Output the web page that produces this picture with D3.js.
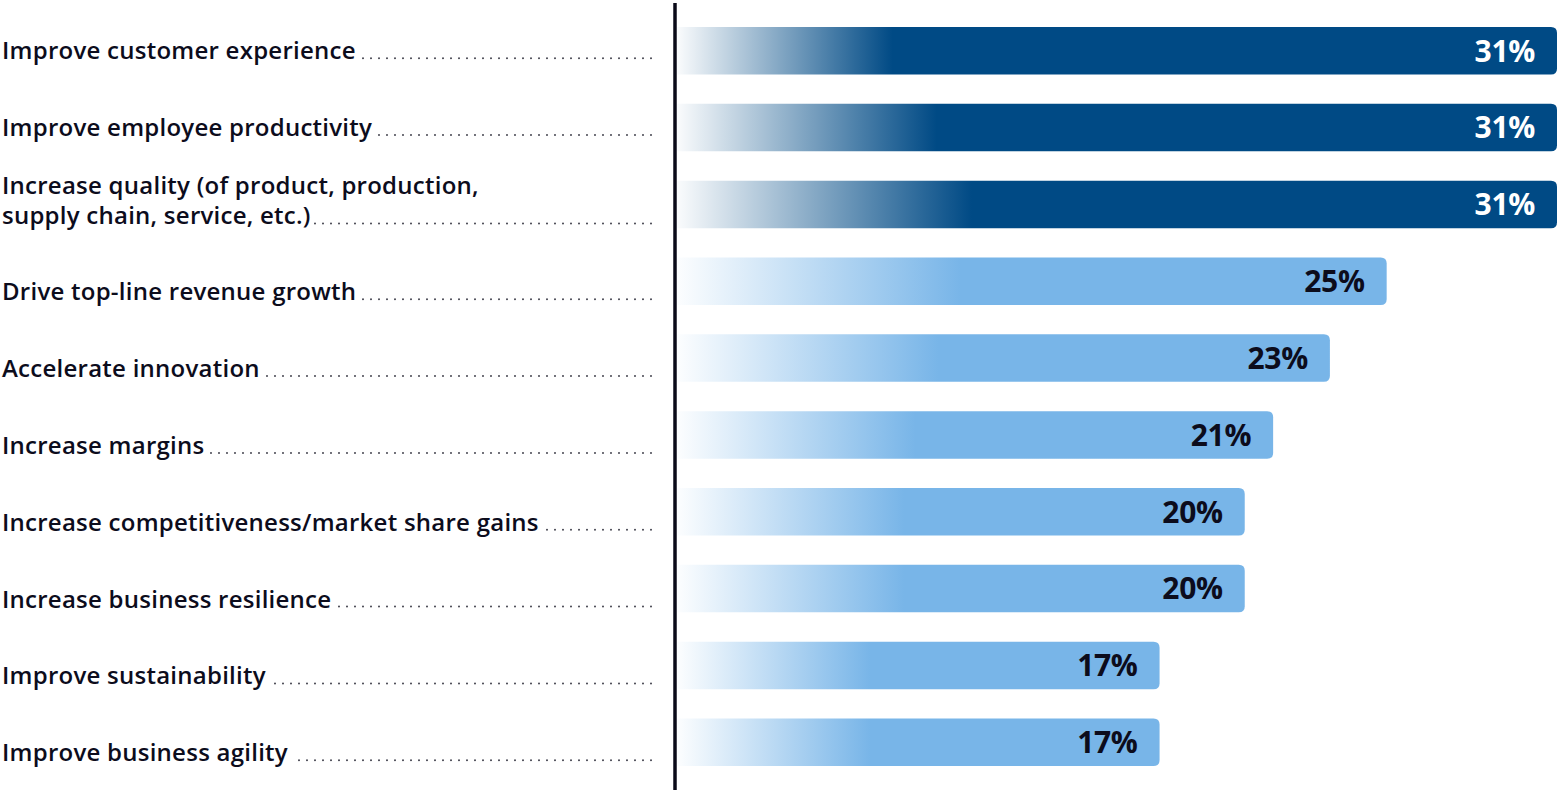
<!DOCTYPE html>
<html>
<head>
<meta charset="utf-8">
<script src="https://cdn.jsdelivr.net/npm/d3@7"></script>
<style>
  html, body { margin: 0; padding: 0; background: #ffffff; }
  svg { display: block; }
</style>
</head>
<body>
<svg id="chart" width="1557" height="790"></svg>
<script>
// Business outcomes ranked by share of respondents
const categories = [
  "Improve customer experience",
  "Improve employee productivity",
  "Increase quality (of product, production,\nsupply chain, service, etc.)",
  "Drive top-line revenue growth",
  "Accelerate innovation",
  "Increase margins",
  "Increase competitiveness/market share gains",
  "Increase business resilience",
  "Improve sustainability",
  "Improve business agility"
];
const values = [31, 31, 31, 25, 23, 21, 20, 20, 17, 17];
const highlighted = [true, true, true, false, false, false, false, false, false, false];
const valueLabels = ["31%", "31%", "31%", "25%", "23%", "21%", "20%", "20%", "17%", "17%"];

const W = 1557, H = 790;
const svg = d3.select("#chart");

const DARK = "#004a85";
const LIGHT = "#78b5e8";
const TEXT = "#0c0c1c";
const FONT = "'Open Sans', 'Noto Sans', sans-serif";

const idx = d3.range(categories.length);

const x = d3.scaleLinear().domain([0, 31]).range([677, 1557]);
const y = d3.scaleBand().domain(idx).range([27, 766]).paddingInner(0.382).paddingOuter(0);

// Fade-in gradients: dark bars reach full colour at slightly different points
const defs = svg.append("defs");
const darkStops = [0.245, 0.295, 0.335];
idx.forEach(i => {
  const g = defs.append("linearGradient")
    .attr("id", "grad" + i)
    .attr("x1", "0").attr("x2", "1").attr("y1", "0").attr("y2", "0");
  const col = highlighted[i] ? DARK : LIGHT;
  const end = highlighted[i] ? darkStops[i] : 0.4;
  g.append("stop").attr("offset", 0).attr("stop-color", col).attr("stop-opacity", 0.02);
  g.append("stop").attr("offset", end).attr("stop-color", col).attr("stop-opacity", 1);
  g.append("stop").attr("offset", 1).attr("stop-color", col).attr("stop-opacity", 1);
});

// Bars: square on the left, rounded on the right
const r = 6;
function barPath(x0, x1, y0, h) {
  return `M${x0},${y0}H${x1 - r}Q${x1},${y0} ${x1},${y0 + r}V${y0 + h - r}Q${x1},${y0 + h} ${x1 - r},${y0 + h}H${x0}Z`;
}

svg.append("g").selectAll("path")
  .data(idx)
  .join("path")
  .attr("d", i => barPath(x(0), x(values[i]), y(i), y.bandwidth()))
  .attr("fill", i => `url(#grad${i})`);

// Value labels inside the bar ends
svg.append("g").selectAll("text")
  .data(idx)
  .join("text")
  .attr("x", i => x(values[i]) - 22)
  .attr("y", i => y(i) + y.bandwidth() / 2)
  .attr("dy", "0.36em")
  .attr("text-anchor", "end")
  .attr("font-family", FONT)
  .attr("font-weight", 700)
  .attr("font-size", 30)
  .attr("letter-spacing", -0.3)
  .attr("fill", i => highlighted[i] ? "#ffffff" : TEXT)
  .text(i => valueLabels[i]);

// Category labels with dotted leaders running to the axis.
// The first two labels sit level with their bars; the rest sit a little lower.
const labelG = svg.append("g");
const leaderEnd = 651;
const lineH = 30;
idx.forEach(i => {
  const lines = categories[i].split("\n");
  const cy = y(i) + y.bandwidth() / 2;
  let lastBaseline;
  if (lines.length > 1) lastBaseline = cy + 20;
  else if (i < 2) lastBaseline = cy + 8.5;
  else lastBaseline = cy + 19;
  const t = labelG.append("text")
    .attr("font-family", FONT)
    .attr("font-weight", 600)
    .attr("font-size", 24)
    .attr("letter-spacing", 0.25)
    .attr("fill", TEXT);
  let lastLen = 0;
  lines.forEach((ln, k) => {
    const ts = t.append("tspan")
      .attr("x", 2)
      .attr("y", lastBaseline - (lines.length - 1 - k) * lineH)
      .text(ln);
    if (k === lines.length - 1) lastLen = ts.node().getComputedTextLength();
  });
  labelG.append("line")
    .attr("x1", leaderEnd).attr("x2", 2 + lastLen + 4)
    .attr("y1", lastBaseline - 1).attr("y2", lastBaseline - 1)
    .attr("stroke", "#44444f")
    .attr("stroke-width", 2)
    .attr("stroke-linecap", "round")
    .attr("stroke-dasharray", "0 8");
});

// Vertical baseline at zero
svg.append("line")
  .attr("x1", 675).attr("x2", 675)
  .attr("y1", 3).attr("y2", H)
  .attr("stroke", "#0a0a18")
  .attr("stroke-width", 3.5);
</script>
</body>
</html>
